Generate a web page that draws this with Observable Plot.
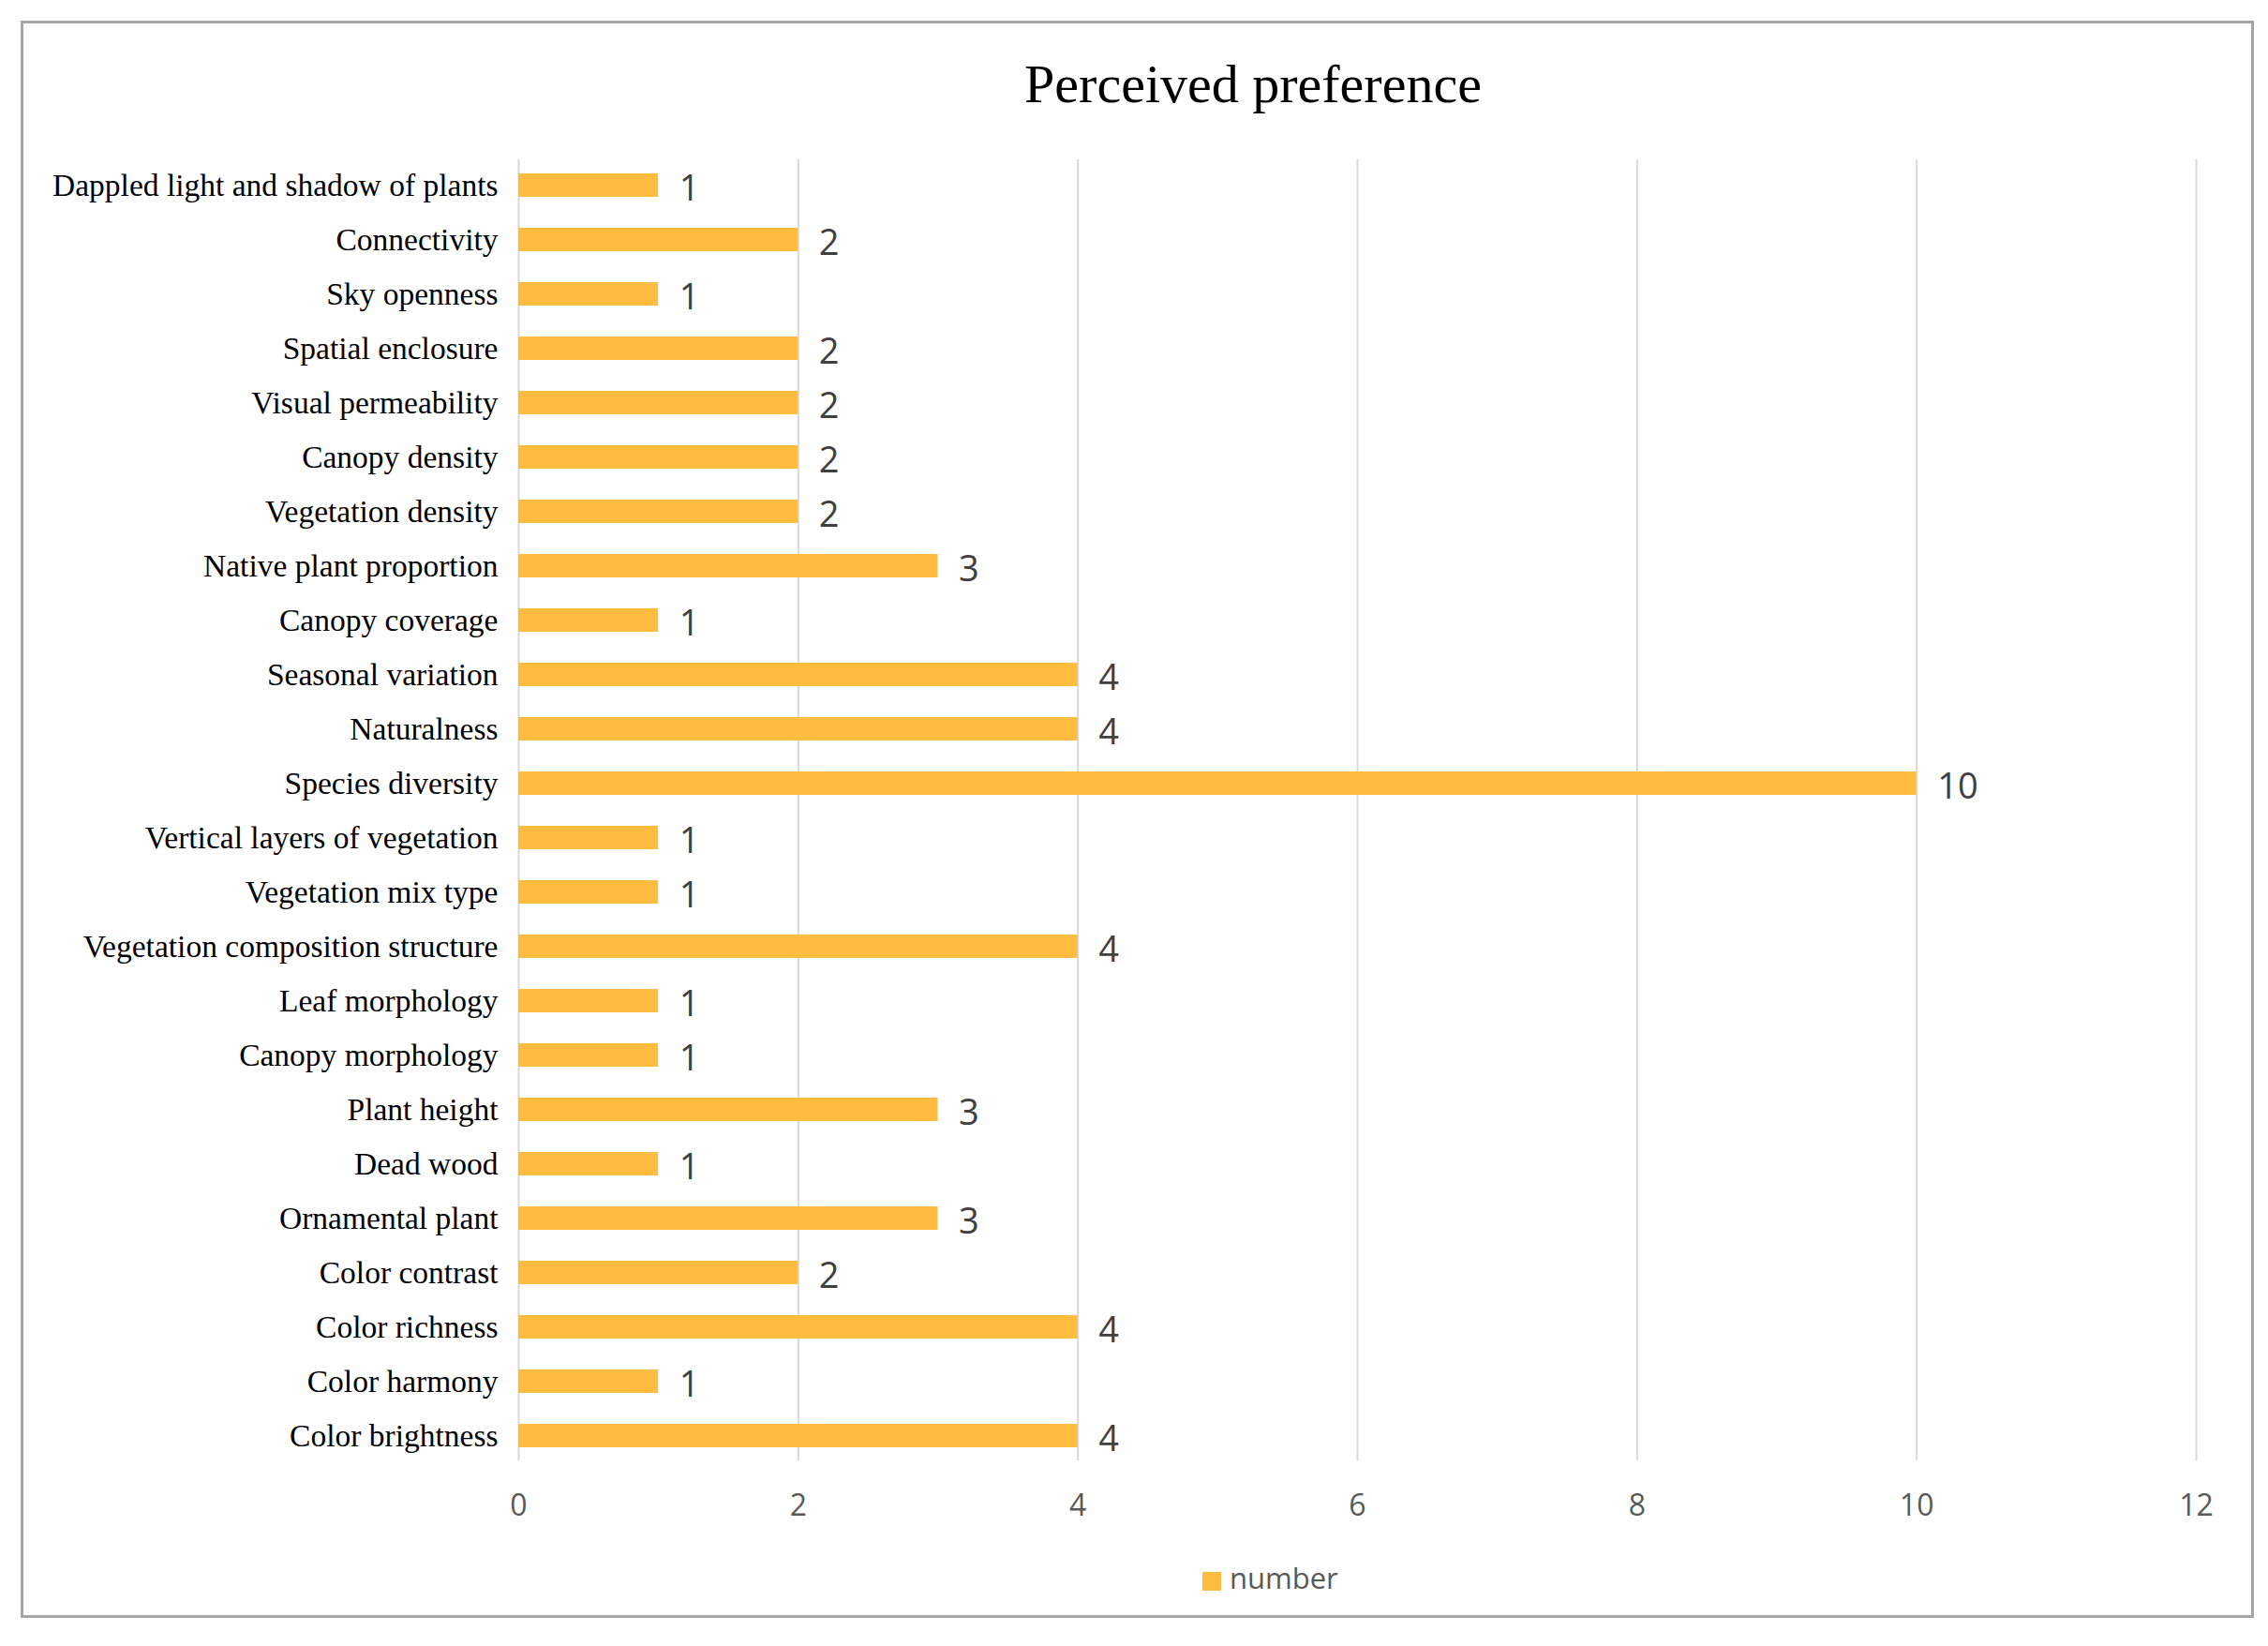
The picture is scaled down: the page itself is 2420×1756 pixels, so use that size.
<!DOCTYPE html>
<html>
<head>
<meta charset="utf-8">
<script src="https://cdn.jsdelivr.net/npm/d3@7"></script>
<script src="https://cdn.jsdelivr.net/npm/@observablehq/plot@0.6"></script>
<style>
  html, body { margin: 0; padding: 0; background: #fff; }
  #wrap { position: relative; width: 2420px; height: 1756px; }
  #frame { position: absolute; left: 22px; top: 22px; width: 2383px; height: 1704px; border: 3px solid #a6a6a6; box-sizing: border-box; pointer-events: none; }
  #title { position: absolute; left: 0; width: 2674px; top: 56px; text-align: center; font-family: "Liberation Serif", serif; font-size: 58px; color: #000; }
  #legend { position: absolute; top: 1662px; left: 1283px; font-family: "Open Sans", sans-serif; font-size: 31px; color: #595959; display: flex; align-items: center; }
  #legend span.sw { display: inline-block; width: 20px; height: 20px; background: #FFBC3F; margin-right: 9px; margin-top: 8px; }
  #chart { position: absolute; left: 0; top: 0; }
</style>
</head>
<body>
<div id="wrap">
  <div id="chart"></div>
  <div id="title">Perceived preference</div>
  <div id="legend"><span class="sw"></span><span id="legtext">number</span></div>
  <div id="frame"></div>
</div>
<script>
const categories = [
  "Dappled light and shadow of plants",
  "Connectivity",
  "Sky openness",
  "Spatial enclosure",
  "Visual permeability",
  "Canopy density",
  "Vegetation density",
  "Native plant proportion",
  "Canopy coverage",
  "Seasonal variation",
  "Naturalness",
  "Species diversity",
  "Vertical layers of vegetation",
  "Vegetation mix type",
  "Vegetation composition structure",
  "Leaf morphology",
  "Canopy morphology",
  "Plant height",
  "Dead wood",
  "Ornamental plant",
  "Color contrast",
  "Color richness",
  "Color harmony",
  "Color brightness"
];
const values = [1, 2, 1, 2, 2, 2, 2, 3, 1, 4, 4, 10, 1, 1, 4, 1, 1, 3, 1, 3, 2, 4, 1, 4];
const xTicks = [0, 2, 4, 6, 8, 10, 12];
const seriesName = "number";

const data = categories.map((c, i) => ({category: c, value: values[i]}));

const chart = Plot.plot({
  width: 2420,
  height: 1756,
  marginLeft: 553,
  marginRight: 77,
  marginTop: 170,
  marginBottom: 198,
  style: {background: "transparent"},
  x: {domain: [0, 12], ticks: xTicks, label: null},
  y: {domain: categories, label: null, paddingInner: 0.57, paddingOuter: 0.15},
  marks: [
    Plot.gridX(xTicks, {stroke: "#d9d9d9", strokeOpacity: 1, strokeWidth: 2}),
    Plot.barX(data, {x: "value", y: "category", fill: "#FFBC3F"}),
    Plot.text(data, {x: "value", y: "category", text: d => String(d.value), dx: 22, dy: 4, textAnchor: "start",
      fontFamily: "Open Sans, sans-serif", fontSize: 38, fill: "#404040"}),
    Plot.axisX(xTicks, {anchor: "bottom", tickSize: 0, tickPadding: 36, fontSize: 32, fontFamily: "Open Sans, sans-serif",
      fill: "#595959", label: null, tickFormat: d => String(d)}),
    Plot.axisY({anchor: "left", tickSize: 0, tickPadding: 22, fontSize: 33.5, fontFamily: "Liberation Serif, serif",
      fill: "#000", label: null})
  ]
});
document.getElementById("chart").appendChild(chart);
document.getElementById("legtext").textContent = seriesName;
</script>
</body>
</html>
